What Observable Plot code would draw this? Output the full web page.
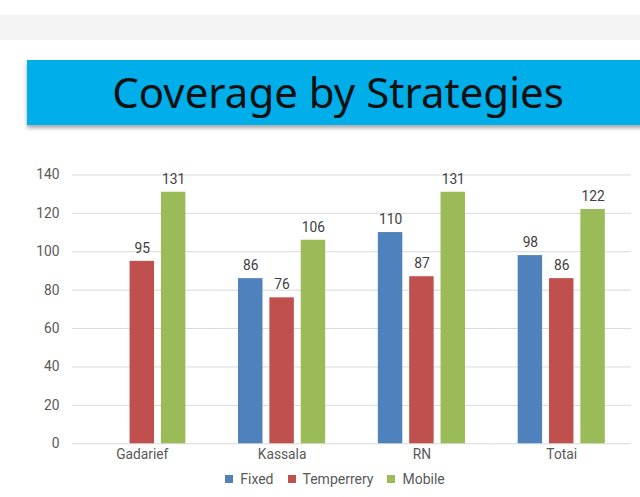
<!DOCTYPE html>
<html><head><meta charset="utf-8">
<script src="https://cdn.jsdelivr.net/npm/d3@7"></script>
<script src="https://cdn.jsdelivr.net/npm/@observablehq/plot@0.6"></script>
<style>
html,body{margin:0;padding:0;width:640px;height:497px;overflow:hidden;background:#fff;font-family:Roboto,"Noto Sans",sans-serif;}
#band{position:absolute;left:0;top:15px;width:640px;height:25px;background:#f4f4f4;}
#title{position:absolute;left:27px;top:60px;width:640px;height:65px;background:#00aeea;box-shadow:0 3px 4px rgba(0,0,0,0.35);}
#title span{position:absolute;left:0;width:622px;top:0;line-height:63px;text-align:center;font-family:"Noto Sans",sans-serif;font-size:42px;color:#111;}
#chart{position:absolute;left:0;top:140px;}
#legend{position:absolute;left:0;width:684px;top:462px;display:flex;justify-content:center;}
</style></head>
<body>
<div id="band"></div>
<div id="title"><span>Coverage by Strategies</span></div>
<div id="chart"></div>
<div id="legend"></div>
<script>
const categories = ["Gadarief", "Kassala", "RN", "Totai"];
const series = ["Fixed", "Temperrery", "Mobile"];
const colors = ["#4f81bd", "#c0504d", "#9bbb59"];
const fixedValues = [null, 86, 110, 98];
const temperreryValues = [95, 76, 87, 86];
const mobileValues = [131, 106, 131, 122];
const yTicks = [0, 20, 40, 60, 80, 100, 120, 140];

const rows = [];
[fixedValues, temperreryValues, mobileValues].forEach((vals, si) => {
  vals.forEach((v, ci) => {
    if (v != null) rows.push({cat: categories[ci], series: series[si], value: v});
  });
});

const chart = Plot.plot({
  width: 650,
  height: 357,
  marginLeft: 71,
  marginRight: 8,
  marginTop: 35,
  marginBottom: 49,
  style: {fontFamily: "Roboto, 'Noto Sans', sans-serif", fontSize: "14px", background: "transparent", color: "#595959"},
  fx: {domain: categories, padding: 0, label: null, axis: "bottom", tickSize: 0, tickPadding: 6},
  x: {domain: series, axis: null, paddingInner: 0.22, paddingOuter: 0.84, round: false},
  y: {domain: [0, 140], ticks: yTicks, label: null, axis: null},
  color: {domain: series, range: colors},
  marks: [
    Plot.gridY(yTicks, {stroke: "#d9d9d9", strokeOpacity: 1}),
    Plot.axisY(yTicks, {tickSize: 0, tickPadding: 13, fill: "#595959", label: null}),
    Plot.barY(rows, {fx: "cat", x: "series", y: "value", fill: "series"}),
    Plot.text(rows, {fx: "cat", x: "series", y: "value", text: d => String(d.value), dy: -13, fontSize: 14, fill: "#404040"})
  ]
});
document.getElementById("chart").appendChild(chart);

const leg = Plot.legend({
  color: {domain: series, range: colors},
  legend: "swatches",
  swatchSize: 8,
  style: {fontFamily: "Roboto, 'Noto Sans', sans-serif", fontSize: "14px", color: "#595959"}
});
document.getElementById("legend").appendChild(leg);
</script>
</body></html>
